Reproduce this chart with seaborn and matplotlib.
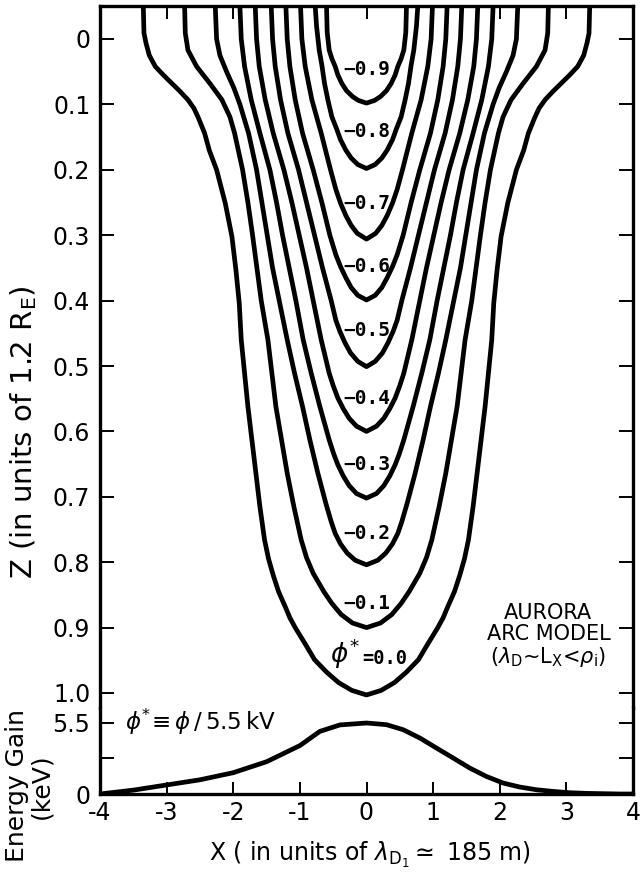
import numpy as np
import matplotlib
matplotlib.use("Agg")
import matplotlib.pyplot as plt
import seaborn as sns

# ---------------- data ----------------
levels = [-0.9, -0.8, -0.7, -0.6, -0.5, -0.4, -0.3, -0.2, -0.1, 0.0]
level_text = ["\u22120.9", "\u22120.8", "\u22120.7", "\u22120.6", "\u22120.5",
              "\u22120.4", "\u22120.3", "\u22120.2", "\u22120.1", "=0.0"]

# depth z (units of 1.2 R_E) and half-width |X| (units of lambda_D) of each contour
cz_09 = [-0.05, -0.01, 0.017, 0.030, 0.042, 0.055, 0.068, 0.079, 0.088, 0.094, 0.098]
cx_09 = [0.60, 0.59, 0.56, 0.52, 0.47, 0.43, 0.37, 0.30, 0.21, 0.12, 0.0]

cz_08 = [-0.05, -0.02, 0.017, 0.040, 0.068, 0.093, 0.119, 0.137, 0.154, 0.170, 0.182, 0.192, 0.198]
cx_08 = [0.77, 0.75, 0.71, 0.67, 0.63, 0.58, 0.52, 0.45, 0.39, 0.31, 0.23, 0.13, 0.0]

cz_07 = [-0.05, 0.0, 0.042, 0.093, 0.144, 0.200, 0.230, 0.251, 0.270, 0.285, 0.297, 0.306]
cx_07 = [0.99, 0.97, 0.92, 0.82, 0.68, 0.54, 0.46, 0.39, 0.31, 0.23, 0.14, 0.0]

cz_06 = [-0.05, 0.0, 0.042, 0.093, 0.144, 0.200, 0.250, 0.300, 0.330, 0.348, 0.365, 0.380, 0.392, 0.399]
cx_06 = [1.21, 1.19, 1.15, 1.07, 0.96, 0.80, 0.67, 0.55, 0.46, 0.39, 0.31, 0.23, 0.13, 0.0]

cz_05 = [-0.05, 0.0, 0.042, 0.093, 0.144, 0.200, 0.250, 0.300, 0.350, 0.400, 0.430, 0.447, 0.465, 0.480, 0.493, 0.501]
cx_05 = [1.43, 1.41, 1.37, 1.29, 1.18, 1.02, 0.90, 0.78, 0.66, 0.53, 0.46, 0.40, 0.32, 0.24, 0.13, 0.0]

cz_04 = [-0.05, 0.0, 0.042, 0.093, 0.144, 0.200, 0.250, 0.300, 0.350, 0.400, 0.460, 0.511, 0.530, 0.549, 0.565, 0.580, 0.592, 0.600]
cx_04 = [1.67, 1.65, 1.61, 1.52, 1.40, 1.24, 1.12, 1.01, 0.90, 0.80, 0.68, 0.56, 0.50, 0.43, 0.35, 0.26, 0.15, 0.0]

cz_03 = [-0.05, 0.0, 0.042, 0.093, 0.144, 0.200, 0.250, 0.300, 0.350, 0.400, 0.460, 0.511, 0.562, 0.613, 0.635, 0.651, 0.668, 0.683, 0.695, 0.702]
cx_03 = [1.90, 1.88, 1.83, 1.73, 1.60, 1.45, 1.35, 1.26, 1.16, 1.06, 0.95, 0.83, 0.70, 0.56, 0.49, 0.43, 0.35, 0.26, 0.15, 0.0]

cz_02 = [-0.05, 0.0, 0.025, 0.050, 0.075, 0.100, 0.144, 0.200, 0.250, 0.300, 0.350, 0.400, 0.460, 0.511, 0.562, 0.613, 0.664, 0.710, 0.738, 0.756, 0.772, 0.786, 0.797, 0.804]
cx_02 = [2.27, 2.25, 2.20, 2.10, 1.99, 1.90, 1.77, 1.65, 1.57, 1.49, 1.41, 1.31, 1.19, 1.08, 0.96, 0.85, 0.73, 0.61, 0.53, 0.47, 0.39, 0.29, 0.17, 0.0]

cz_01 = [-0.05, -0.009, 0.017, 0.042, 0.068, 0.093, 0.119, 0.144, 0.200, 0.250, 0.300, 0.400, 0.460, 0.562, 0.664, 0.715, 0.766, 0.793, 0.817, 0.845, 0.863, 0.880, 0.893, 0.900]
cx_01 = [2.73, 2.72, 2.68, 2.55, 2.35, 2.17, 2.05, 1.98, 1.86, 1.78, 1.71, 1.58, 1.48, 1.36, 1.19, 1.09, 0.98, 0.90, 0.80, 0.64, 0.52, 0.38, 0.21, 0.0]

cz_00 = [-0.05, -0.009, 0.006, 0.025, 0.042, 0.055, 0.068, 0.080, 0.093, 0.106, 0.119, 0.144, 0.170, 0.200, 0.251, 0.302, 0.353, 0.404, 0.460, 0.562, 0.664, 0.715, 0.766, 0.795, 0.820, 0.845, 0.868, 0.885, 0.900, 0.925, 0.949, 0.968, 0.984, 0.996, 1.003]
cx_00 = [3.35, 3.34, 3.31, 3.26, 3.17, 3.05, 2.92, 2.80, 2.68, 2.59, 2.53, 2.43, 2.36, 2.25, 2.12, 2.02, 1.96, 1.91, 1.88, 1.78, 1.66, 1.60, 1.53, 1.47, 1.40, 1.32, 1.22, 1.15, 1.07, 0.92, 0.78, 0.60, 0.42, 0.22, 0.0]

contour_z = [cz_09, cz_08, cz_07, cz_06, cz_05, cz_04, cz_03, cz_02, cz_01, cz_00]
contour_x = [cx_09, cx_08, cx_07, cx_06, cx_05, cx_04, cx_03, cx_02, cx_01, cx_00]

# energy gain curve (keV) vs X
energy_x = [-4.0, -3.5, -3.0, -2.5, -2.0, -1.5, -1.0, -0.7, -0.4, 0.0, 0.3, 0.55, 0.8,
            1.05, 1.3, 1.55, 1.8, 2.05, 2.3, 2.55, 2.8, 3.05, 3.3, 3.8, 4.0]
energy_y = [0.0, 0.30, 0.70, 1.10, 1.65, 2.50, 3.75, 4.85, 5.35, 5.50, 5.37, 4.98, 4.34,
            3.56, 2.79, 2.01, 1.36, 0.85, 0.54, 0.33, 0.20, 0.10, 0.05, 0.0, 0.0]

z_ticks = [0, 0.1, 0.2, 0.3, 0.4, 0.5, 0.6, 0.7, 0.8, 0.9, 1.0]
z_ticklabels = ["0", "0.1", "0.2", "0.3", "0.4", "0.5", "0.6", "0.7", "0.8", "0.9", "1.0"]
x_ticks = [-4, -3, -2, -1, 0, 1, 2, 3, 4]
x_ticklabels = ["-4", "-3", "-2", "-1", "0", "1", "2", "3", "4"]
e_ticks = [0, 2.75, 5.5]
e_ticklabels = ["0", "", "5.5"]

# ---------------- figure ----------------
sns.set_theme(style="ticks")
plt.rcParams["font.family"] = ["DejaVu Sans"]
plt.rcParams["mathtext.fontset"] = "dejavusans"
plt.rcParams["text.color"] = "black"
plt.rcParams["axes.labelcolor"] = "black"
plt.rcParams["xtick.color"] = "black"
plt.rcParams["ytick.color"] = "black"

W, H = 641, 876
fig = plt.figure(figsize=(W / 100, H / 100), dpi=100)
fig.patch.set_facecolor("white")

def fx(px):
    return px / W

def fy(py):
    return 1 - py / H

left, right = 100, 633
top_px, mid_px, bot_px = 6, 708, 794
ax = fig.add_axes([fx(left), fy(mid_px), fx(right) - fx(left), fy(top_px) - fy(mid_px)])
axe = fig.add_axes([fx(left), fy(bot_px), fx(right) - fx(left), fy(mid_px) - fy(bot_px)])

LW = 3.4
for zs, xs in zip(contour_z, contour_x):
    xs = np.asarray(xs)
    zs = np.asarray(zs)
    path_x = np.concatenate([-xs, xs[::-1][1:]])
    path_z = np.concatenate([zs, zs[::-1][1:]])
    sns.lineplot(x=path_x, y=path_z, sort=False, estimator=None, color="black",
                 lw=LW, ax=ax, solid_joinstyle="round", solid_capstyle="butt")

sns.lineplot(x=energy_x, y=energy_y, sort=False, estimator=None, color="black",
             lw=LW, ax=axe, solid_joinstyle="round")

ax.set_xlim(-4, 4)
ax.set_ylim((mid_px - 39) / 654, (top_px - 39) / 654)
axe.set_xlim(-4, 4)
axe.set_ylim(0, (bot_px - mid_px) / 12.91)

for a in (ax, axe):
    for s in a.spines.values():
        s.set_linewidth(2.4)
        s.set_color("black")
    a.set_facecolor("white")
    a.grid(False)
    a.set_xlabel("")
    a.set_ylabel("")

ax.spines["bottom"].set_visible(False)
axe.spines["top"].set_visible(False)

TICKFS = 17
ax.set_yticks(z_ticks)
ax.set_yticklabels(z_ticklabels)
ax.set_xticks(x_ticks)
ax.tick_params(axis="y", which="both", direction="in", length=10, width=1.4,
               left=True, right=True, labelsize=TICKFS, pad=7, colors="black")
ax.tick_params(axis="x", direction="in", length=9, width=1.4, top=True, bottom=False,
               labelbottom=False, labeltop=False)

axe.set_yticks(e_ticks)
axe.set_yticklabels(e_ticklabels)
axe.set_xticks(x_ticks)
axe.set_xticklabels(x_ticklabels)
axe.tick_params(axis="y", direction="in", length=10, width=1.4, left=True, right=True,
                labelsize=TICKFS, pad=7, colors="black")
axe.tick_params(axis="x", direction="in", length=9, width=1.4, top=False, bottom=True,
                labelsize=TICKFS, pad=5, colors="black")

# contour labels
label_z = [0.047, 0.142, 0.251, 0.348, 0.445, 0.549, 0.651, 0.756, 0.863, 0.942]
for lv, txt, zc in zip(levels, level_text, label_z):
    if lv == 0.0:
        ax.text(-0.10, zc - 0.002, r"$\phi^{*}$", fontsize=19, ha="right", va="center",
                color="black")
        ax.text(-0.07, zc + 0.006, txt, fontsize=13.5, fontweight="bold",
                family="DejaVu Sans Mono", ha="left", va="center", color="black")
    else:
        ax.text(0.0, zc, txt, fontsize=14, fontweight="bold", family="DejaVu Sans Mono",
                ha="center", va="center", color="black")

ax.text(2.73, 0.913, "AURORA\nARC MODEL\n" + r"($\lambda_{\rm D}$~L$_{\rm X}$<$\rho_{\rm i}$)",
        fontsize=15, ha="center", va="center", linespacing=1.05, color="black")

axe.text(-3.63, 5.55, r"$\phi^{*}\!\equiv\phi\,/\,5.5\,$kV", fontsize=16.5,
         ha="left", va="center", color="black")

fig.text(fx(24), fy(432), r"Z (in units of 1.2 R$_{\rm E}$)", rotation=90, fontsize=21,
         ha="center", va="center")
fig.text(fx(29), fy(786), "Energy Gain\n(keV)", rotation=90, fontsize=18,
         ha="center", va="center", linespacing=1.0, multialignment="center")
fig.text(fx(370), fy(855), r"X ( in units of $\lambda_{\rm D_1}$$\simeq$ 185 m)",
         fontsize=17, ha="center", va="center")

fig.savefig("out.png", dpi=100, facecolor="white")
